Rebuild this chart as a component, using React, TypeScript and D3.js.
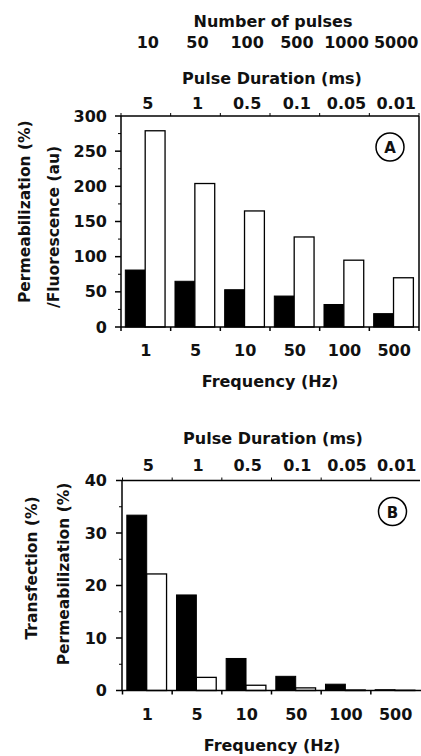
import React from "react";
import * as d3 from "d3";

const frequencies = ["1", "5", "10", "50", "100", "500"];
const pulseCounts = ["10", "50", "100", "500", "1000", "5000"];
const pulseDurations = ["5", "1", "0.5", "0.1", "0.05", "0.01"];

const permeabilizationA = [81, 65, 53, 44, 32, 19];
const fluorescenceA = [279, 204, 165, 128, 95, 70];
const yTicksA = [0, 50, 100, 150, 200, 250, 300];
const yMinorA = [25, 75, 125, 175, 225, 275];

const transfectionB = [33.4, 18.2, 6.1, 2.7, 1.2, 0.15];
const ratioB = [22.2, 2.5, 1.0, 0.5, 0.1, 0.05];
const yTicksB = [0, 10, 20, 30, 40];
const yMinorB = [5, 15, 25, 35];

const FONT = "'DejaVu Sans', sans-serif";

export default function App() {
  const xA = d3.scaleBand<string>().domain(frequencies).range([121, 419]).padding(0);
  const yA = d3.scaleLinear().domain([0, 300]).range([327, 116]);
  const xB = d3.scaleBand<string>().domain(frequencies).range([122.5, 420.5]).padding(0);
  const yB = d3.scaleLinear().domain([0, 40]).range([690.5, 480.5]);

  const bw = xA.bandwidth();
  const off = bw * 0.087;
  const w = bw * 0.4;

  const txt = (x: number, y: number, s: string, extra: any = {}) => (
    <text x={x} y={y} textAnchor="middle" dominantBaseline="central" fontFamily={FONT} fontWeight="bold" fontSize={16} fill="#111" {...extra}>
      {s}
    </text>
  );

  const boundsA = frequencies.map((f) => xA(f)!).concat([419]);
  const boundsB = frequencies.map((f) => xB(f)!).concat([420.5]);

  return (
    <svg width={421} height={756} style={{ position: "absolute", left: 0, top: 0 }}>
      <rect width={421} height={756} fill="#fff" />
      {/* Panel A */}
      {txt(273, 21, "Number of pulses")}
      {pulseCounts.map((p, i) => txt(xA(frequencies[i])! + bw / 2 + 2, 42, p, { key: "pc" + i }))}
      {txt(272, 78, "Pulse Duration (ms)")}
      {pulseDurations.map((p, i) => txt(xA(frequencies[i])! + bw / 2 + 2, 103, p, { key: "pd" + i }))}

      {permeabilizationA.map((v, i) => (
        <rect key={"ab" + i} x={xA(frequencies[i])! + off} y={yA(v)} width={w} height={yA(0) - yA(v)} fill="#000" stroke="#000" strokeWidth={1} />
      ))}
      {fluorescenceA.map((v, i) => (
        <rect key={"aw" + i} x={xA(frequencies[i])! + off + w} y={yA(v)} width={w} height={yA(0) - yA(v)} fill="#fff" stroke="#000" strokeWidth={1.3} />
      ))}

      <g stroke="#000" strokeWidth={1.5} fill="none">
        <line x1={121} x2={121} y1={116} y2={327} />
        <line x1={121} x2={419} y1={116} y2={116} />
        <line x1={419} x2={419} y1={116} y2={327} />
        <line x1={121} x2={419} y1={327} y2={327} />
        {yTicksA.map((t) => (
          <line key={"ta" + t} x1={115} x2={121} y1={yA(t)} y2={yA(t)} />
        ))}
        {yMinorA.map((t) => (
          <line key={"tma" + t} x1={118} x2={121} y1={yA(t)} y2={yA(t)} strokeWidth={1} />
        ))}
        {boundsA.map((b, i) => (
          <line key={"tba" + i} x1={b} x2={b} y1={327} y2={331} />
        ))}
        {boundsA.map((b, i) => (
          <line key={"tta" + i} x1={b} x2={b} y1={116} y2={113} strokeWidth={1} />
        ))}
      </g>
      {yTicksA.map((t) => txt(107, yA(t), String(t), { key: "la" + t, textAnchor: "end" }))}
      {frequencies.map((f) => txt(xA(f)! + bw / 2, 350, f, { key: "fa" + f }))}
      {txt(270, 381, "Frequency (Hz)")}
      <g transform="translate(25,303) rotate(-90)">{txt(0, 0, "Permeabilization (%)", { textAnchor: "start", fontSize: 15.5 })}</g>
      <g transform="translate(54,308) rotate(-90)">{txt(0, 0, "/Fluorescence (au)", { textAnchor: "start", fontSize: 15.5 })}</g>
      <circle cx={390} cy={147} r={14} fill="#fff" stroke="#000" strokeWidth={1.5} />
      {txt(390, 148, "A", { fontSize: 15 })}

      {/* Panel B */}
      {txt(273, 438, "Pulse Duration (ms)")}
      {pulseDurations.map((p, i) => txt(xB(frequencies[i])! + bw / 2 + 1, 465, p, { key: "pdb" + i }))}

      {transfectionB.map((v, i) => (
        <rect key={"bb" + i} x={xB(frequencies[i])! + off} y={yB(v)} width={w} height={yB(0) - yB(v)} fill="#000" stroke="#000" strokeWidth={1} />
      ))}
      {ratioB.map((v, i) => (
        <rect key={"bw" + i} x={xB(frequencies[i])! + off + w} y={yB(v)} width={w} height={yB(0) - yB(v)} fill="#fff" stroke="#000" strokeWidth={1.3} />
      ))}

      <g stroke="#000" strokeWidth={1.5} fill="none">
        <line x1={122} x2={122} y1={480.5} y2={690.5} />
        <line x1={122} x2={420} y1={480.5} y2={480.5} />
        <line x1={122} x2={421} y1={690.5} y2={690.5} />
        {yTicksB.map((t) => (
          <line key={"tb" + t} x1={116} x2={122} y1={yB(t)} y2={yB(t)} />
        ))}
        {yMinorB.map((t) => (
          <line key={"tmb" + t} x1={119} x2={122} y1={yB(t)} y2={yB(t)} strokeWidth={1} />
        ))}
        {boundsB.slice(0, 6).map((b, i) => (
          <line key={"tbb" + i} x1={b} x2={b} y1={690.5} y2={694.5} />
        ))}
        {boundsB.slice(0, 6).map((b, i) => (
          <line key={"ttb" + i} x1={b} x2={b} y1={480.5} y2={477.5} strokeWidth={1} />
        ))}
      </g>
      {yTicksB.map((t) => txt(107, yB(t), String(t), { key: "lb" + t, textAnchor: "end" }))}
      {frequencies.map((f) => txt(xB(f)! + bw / 2, 714, f, { key: "fb" + f }))}
      {txt(272, 745, "Frequency (Hz)")}
      <g transform="translate(32,568) rotate(-90)">{txt(0, 0, "Transfection (%)", { fontSize: 15.5 })}</g>
      <g transform="translate(64,574) rotate(-90)">{txt(0, 0, "Permeabilization (%)", { fontSize: 15.5 })}</g>
      <circle cx={392.5} cy={511.5} r={14} fill="#fff" stroke="#000" strokeWidth={1.5} />
      {txt(392.5, 512.5, "B", { fontSize: 15 })}
    </svg>
  );
}
